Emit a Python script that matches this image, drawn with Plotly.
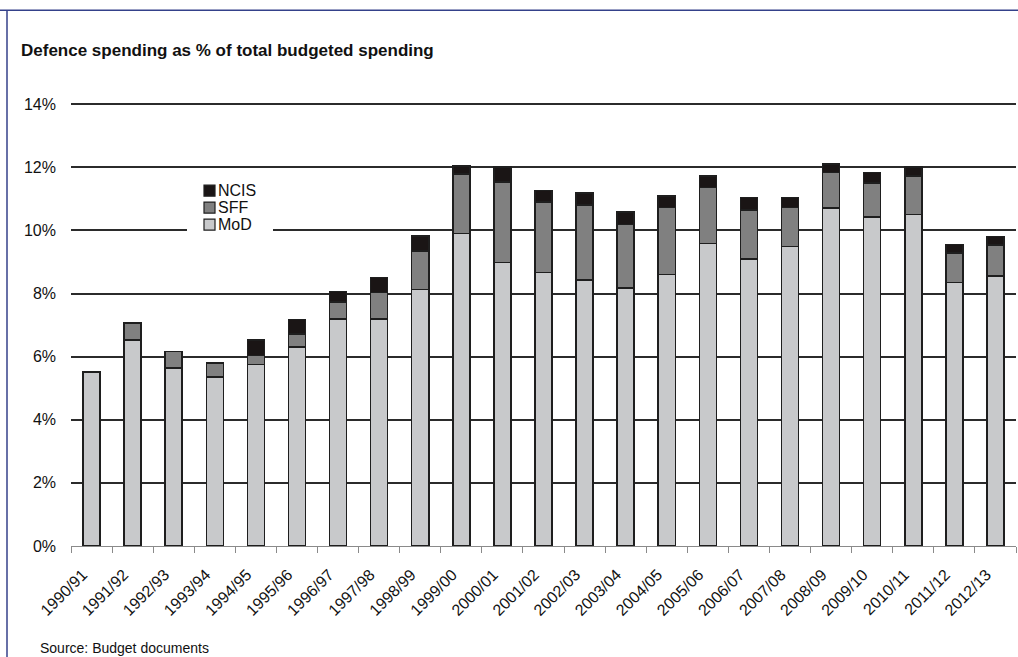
import plotly.graph_objects as go

years = ["1990/91", "1991/92", "1992/93", "1993/94", "1994/95", "1995/96", "1996/97",
         "1997/98", "1998/99", "1999/00", "2000/01", "2001/02", "2002/03", "2003/04",
         "2004/05", "2005/06", "2006/07", "2007/08", "2008/09", "2009/10", "2010/11",
         "2011/12", "2012/13"]
mod = [5.52, 6.53, 5.64, 5.36, 5.75, 6.31, 7.20, 7.19, 8.12, 9.90, 8.99, 8.67, 8.43,
       8.17, 8.61, 9.59, 9.09, 9.49, 10.71, 10.43, 10.50, 8.35, 8.56]
sff = [0, 0.53, 0.53, 0.44, 0.29, 0.40, 0.53, 0.84, 1.23, 1.88, 2.54, 2.23, 2.37,
       2.01, 2.11, 1.77, 1.56, 1.23, 1.12, 1.07, 1.23, 0.94, 0.98]
ncis = [0, 0, 0, 0, 0.48, 0.47, 0.34, 0.47, 0.47, 0.26, 0.48, 0.37, 0.39,
        0.40, 0.37, 0.36, 0.39, 0.32, 0.27, 0.33, 0.28, 0.26, 0.27]
y_ticks = [0, 2, 4, 6, 8, 10, 12, 14]

series = [("MoD", mod, "#c8c9cb"), ("SFF", sff, "#808080"), ("NCIS", ncis, "#1a1515")]

W, H = 1018, 657
Y_TOP = 14.1
L, R, B = 71, 2, 111
T = 104 - 442 * (Y_TOP - 14) / 14
PW, PH = W - L - R, H - T - B
FONT = "Liberation Sans, Arial, sans-serif"


def px(x):
    return (x - L) / PW


def py(y):
    return (H - B - y) / PH


fig = go.Figure()
for name, vals, col in series:
    fig.add_trace(go.Bar(
        x=years, y=[v if v else None for v in vals], name=name,
        marker=dict(color=col, line=dict(color="#1e1e1e", width=1.5)),
        showlegend=False,
    ))

shapes = [
    # page frame (top and left)
    dict(type="line", xref="paper", yref="paper", x0=px(0), x1=px(W), y0=py(10), y1=py(10),
         line=dict(color="#34418a", width=1.5)),
    dict(type="line", xref="paper", yref="paper", x0=px(7), x1=px(7), y0=py(10), y1=py(H),
         line=dict(color="#34418a", width=1.5)),
    # legend background
    dict(type="rect", xref="paper", yref="paper", x0=px(187), x1=px(273), y0=py(178), y1=py(236),
         fillcolor="white", line=dict(width=0), layer="above"),
]
annotations = [
    dict(text="<b>Defence spending as % of total budgeted spending</b>", xref="paper", yref="paper",
         x=px(19), y=py(50), xanchor="left", yanchor="middle", showarrow=False,
         font=dict(family=FONT, size=17, color="#111")),
    dict(text="Source: Budget documents", xref="paper", yref="paper",
         x=px(38), y=py(648), xanchor="left", yanchor="middle", showarrow=False,
         font=dict(family=FONT, size=14, color="#111")),
]
# custom legend (top to bottom: NCIS, SFF, MoD)
for i, (name, vals, col) in enumerate(reversed(series)):
    cy = 190.5 + 17 * i
    shapes.append(dict(type="rect", xref="paper", yref="paper",
                       x0=px(204), x1=px(215), y0=py(cy - 5.5), y1=py(cy + 5.5),
                       fillcolor=col, line=dict(color="#1e1e1e", width=1.2), layer="above"))
    annotations.append(dict(text=name, xref="paper", yref="paper", x=px(216), y=py(cy),
                            xanchor="left", yanchor="middle", showarrow=False,
                            font=dict(family=FONT, size=16, color="#111")))

fig.update_layout(
    width=W, height=H,
    margin=dict(l=L, r=R, t=T, b=B, pad=0),
    paper_bgcolor="white", plot_bgcolor="white",
    barmode="stack", bargap=0.585,
    font=dict(family=FONT, color="#111"),
    shapes=shapes, annotations=annotations,
    xaxis=dict(
        type="category", tickangle=-45, tickfont=dict(size=16, color="#111"),
        showline=True, linecolor="#8a8a8a", linewidth=1.2,
        ticks="outside", tickson="boundaries", ticklen=6, tickcolor="#8a8a8a", tickwidth=1,
        showgrid=False, ticklabelstandoff=12, ticklabelshift=-9,
    ),
    yaxis=dict(
        range=[0, Y_TOP], tickvals=y_ticks, ticktext=[f"{v}%" for v in y_ticks],
        tickfont=dict(size=16, color="#111"),
        showgrid=True, gridcolor="#2b2b2b", gridwidth=1.6, zeroline=False,
        showline=False, ticks="", ticklabelstandoff=14,
    ),
)

fig.write_html("out.html")
